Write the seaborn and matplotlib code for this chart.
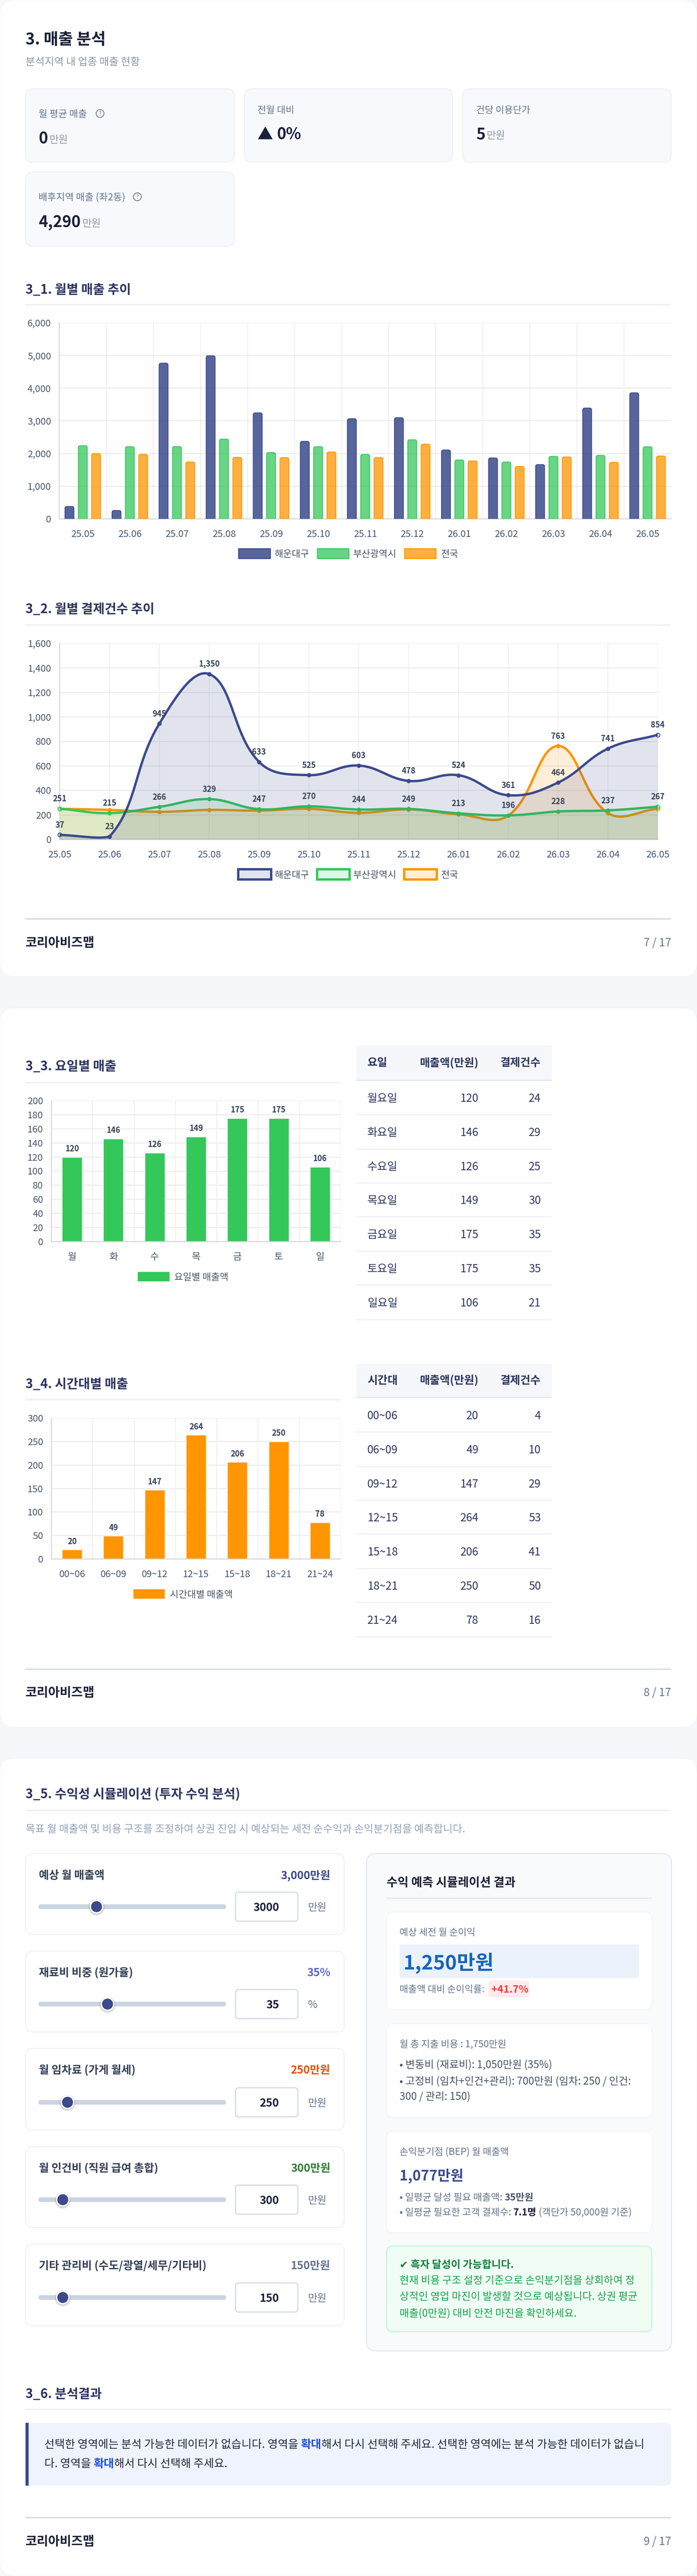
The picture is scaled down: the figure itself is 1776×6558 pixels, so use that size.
import numpy as np
import pandas as pd
import seaborn as sns
import matplotlib.pyplot as plt
from matplotlib.patches import FancyBboxPatch, Circle, Rectangle, PathPatch
from matplotlib.path import Path
from matplotlib.colors import to_rgba

W, H = 1776, 6558
PT = 0.72  # css px on the 100 dpi canvas -> points

# data
months = ["25.05", "25.06", "25.07", "25.08", "25.09", "25.10", "25.11", "25.12", "26.01", "26.02", "26.03", "26.04", "26.05"]
regions = ["해운대구", "부산광역시", "전국"]
sales_local = [380, 258, 4767, 4994, 3245, 2374, 3067, 3098, 2110, 1865, 1663, 3393, 3859]
sales_busan = [2240, 2209, 2215, 2442, 2031, 2209, 1975, 2423, 1804, 1742, 1914, 1945, 2209]
sales_korea = [2000, 1975, 1742, 1883, 1877, 2049, 1877, 2288, 1773, 1607, 1896, 1730, 1926]
count_local = [37, 23, 945, 1350, 633, 525, 603, 478, 524, 361, 464, 741, 854]
count_busan = [251, 215, 266, 329, 247, 270, 244, 249, 213, 196, 228, 237, 267]
count_korea = [250, 241, 225, 241, 235, 250, 217, 245, 205, 194, 763, 215, 250]

day_short = ["월", "화", "수", "목", "금", "토", "일"]
day_names = ["월요일", "화요일", "수요일", "목요일", "금요일", "토요일", "일요일"]
day_sales = [120, 146, 126, 149, 175, 175, 106]
day_count = [24, 29, 25, 30, 35, 35, 21]

time_names = ["00~06", "06~09", "09~12", "12~15", "15~18", "18~21", "21~24"]
time_sales = [20, 49, 147, 264, 206, 250, 78]
time_count = [4, 10, 29, 53, 41, 50, 16]

slider_labels = ["예상 월 매출액", "재료비 비중 (원가율)", "월 임차료 (가게 월세)", "월 인건비 (직원 급여 총합)", "기타 관리비 (수도/광열/세무/기타비)"]
slider_values = ["3,000만원", "35%", "250만원", "300만원", "150만원"]
slider_inputs = ["3000", "35", "250", "300", "150"]
slider_units = ["만원", "%", "만원", "만원", "만원"]

NAVY, GREEN, ORANGE = "#3b4a8c", "#34c759", "#ff9500"
DARK, HEAD, GRAY, TICK = "#1a2138", "#2d3561", "#64748b", "#475569"
GRID, AXIS = "#ebebeb", "#d6d6d6"
FONT = ["Noto Sans CJK KR", "DejaVu Sans"]

sns.set_theme(style="white")
plt.rcParams["font.family"] = FONT
plt.rcParams["axes.unicode_minus"] = False

fig = plt.figure(figsize=(W / 100, H / 100), dpi=100, facecolor="#f5f7fb")
page = fig.add_axes([0, 0, 1, 1], zorder=0)
page.set_xlim(0, W)
page.set_ylim(H, 0)
page.axis("off")
renderer = fig.canvas.get_renderer()


def T(x, y, s, size=24, color=DARK, weight="normal", ha="left", va="center", z=5):
    # centre of the text box sits a little above the glyph centre
    return page.text(x, y + size * 0.1, s, fontsize=size * PT, color=color, fontweight=weight, ha=ha, va=va, zorder=z)


def box(x0, y0, x1, y1, r=0, face="white", edge="none", lw=0, z=1):
    style = f"round,pad=0,rounding_size={r}" if r else "square,pad=0"
    p = FancyBboxPatch((x0, y0), x1 - x0, y1 - y0, boxstyle=style, facecolor=face, edgecolor=edge, linewidth=lw * PT, zorder=z)
    page.add_patch(p)
    return p


def hline(x0, x1, y, color="#f0f1f5", lw=4):
    page.add_patch(Rectangle((x0, y - lw / 2), x1 - x0, lw, facecolor=color, edgecolor="none", zorder=2))


def runs(x, y, parts, size):
    # text with mixed colour / weight on one line
    for s, color, weight in parts:
        t = T(x, y, s, size, color, weight)
        x += t.get_window_extent(renderer).width


def heading(y, line_y, s, x1=1710):
    T(65, y, s, 32.5, HEAD, "bold")
    hline(65, x1, line_y)


def footer(line_y, text_y, s):
    hline(65, 1710, line_y, "#cfd6e2", 3)
    T(65, text_y, "코리아비즈맵", 32, DARK, "bold")
    T(1710, text_y, s, 28, GRAY, ha="right")


def help_icon(x, y):
    page.add_patch(Circle((x, y), 10, facecolor="none", edgecolor=GRAY, linewidth=2 * PT, zorder=5))
    T(x, y, "?", 14, GRAY, ha="center")


def make_axes(l, t, r, b):
    ax = fig.add_axes([l / W, 1 - b / H, (r - l) / W, (b - t) / H], zorder=2)
    ax.patch.set_alpha(0)
    return ax


def style_axes(ax, yticks, categorical=True):
    n = len(ax.get_xticks())
    ax.set_yticks(yticks)
    ax.set_ylim(yticks[0], yticks[-1])
    ax.set_yticklabels([f"{v:,}" for v in yticks])
    ax.set_axisbelow(True)
    ax.set_xlabel("")
    ax.set_ylabel("")
    for side in ["top", "right"]:
        ax.spines[side].set_visible(False)
    for side in ["left", "bottom"]:
        ax.spines[side].set_color(AXIS)
        ax.spines[side].set_linewidth(2.5 * PT)
    ax.grid(True, axis="y", color=GRID, linewidth=2.5 * PT)
    ax.tick_params(axis="y", length=15 * PT, width=2.5 * PT, color=GRID, pad=6 * PT, labelsize=24 * PT, labelcolor=TICK)
    if categorical:
        ax.set_xticks(np.arange(-0.5, n), minor=True)
        ax.set_xlim(-0.5, n - 0.5)
        ax.grid(True, axis="x", which="minor", color="#eeeeee", linewidth=2 * PT)
        ax.tick_params(axis="x", which="minor", length=16 * PT, width=2 * PT, color="#eeeeee")
        ax.tick_params(axis="x", which="major", length=0, pad=28 * PT, labelsize=24 * PT, labelcolor=TICK)
    else:
        ax.grid(True, axis="x", color="#eeeeee", linewidth=2 * PT)
        ax.tick_params(axis="x", length=16 * PT, width=2 * PT, color="#eeeeee", pad=12 * PT, labelsize=24 * PT, labelcolor=TICK)


def legend_item(x, y, w, h, face, edge, lw, label, text_x):
    box(x, y - h / 2, x + w, y + h / 2, 0, face, edge, lw, z=3)
    T(text_x, y, label, 24, TICK)


def round_bar_tops(ax, bars, color, alpha, px_x, px_y, radius=5):
    # chart.js style: rounded upper corners, no stroke along the base
    rx, ry = radius / px_x, radius / px_y
    for bar in bars:
        x0, x1, top = bar.get_x(), bar.get_x() + bar.get_width(), bar.get_height()
        verts = [(x0, 0), (x0, top - ry), (x0, top), (x0 + rx, top), (x1 - rx, top), (x1, top), (x1, top - ry), (x1, 0)]
        codes = [Path.MOVETO, Path.LINETO, Path.CURVE3, Path.CURVE3, Path.LINETO, Path.CURVE3, Path.CURVE3, Path.LINETO]
        ax.add_patch(PathPatch(Path(verts, codes), facecolor=to_rgba(color, alpha), edgecolor=color, linewidth=2 * PT, zorder=3))
        bar.set_visible(False)


def tension_curve(xs, ys, sx, sy, top, t=0.4, n=24):
    # same spline as chart.js tension 0.4, done in pixel space, control points kept inside the plot
    p = np.column_stack([np.asarray(xs, float) * sx, np.asarray(ys, float) * sy])
    before, after = [], []
    for i in range(len(p)):
        prev = p[max(i - 1, 0)]
        nxt = p[min(i + 1, len(p) - 1)]
        d01 = np.hypot(*(p[i] - prev))
        d12 = np.hypot(*(nxt - p[i]))
        total = (d01 + d12) or 1
        a = p[i] - t * d01 / total * (nxt - prev)
        b = p[i] + t * d12 / total * (nxt - prev)
        a[1] = np.clip(a[1], 0, top * sy)
        b[1] = np.clip(b[1], 0, top * sy)
        before.append(a)
        after.append(b)
    out = []
    u = np.linspace(0, 1, n, endpoint=False)[:, None]
    for i in range(len(p) - 1):
        out.append((1 - u) ** 3 * p[i] + 3 * (1 - u) ** 2 * u * after[i] + 3 * (1 - u) * u ** 2 * before[i + 1] + u ** 3 * p[i + 1])
    out.append(p[-1:])
    out = np.vstack(out)
    return out[:, 0] / sx, out[:, 1] / sy


# page cards
box(0, 0, W, 2486, 36, "white", "#eef1f6", 1)
box(0, 2566, W, 4397, 36, "white", "#eef1f6", 1)
box(0, 4476, W, 6558, 36, "white", "#eef1f6", 1)

# ---- page 7 ----
T(65, 97, "3. 매출 분석", 40.5, DARK, "bold")
T(65, 156, "분석지역 내 업종 매출 현황", 26.5, "#8f98a8")

kpi_boxes = [(65, 226, 597, 413), (623, 226, 1153, 413), (1179, 226, 1710, 413), (65, 438, 597, 627)]
for b in kpi_boxes:
    box(*b, 20, "#f7f9fc", "#eef0f5", 2.5)
T(98, 289, "월 평균 매출", 24.4, GRAY)
help_icon(255, 289)
T(98, 350, "0", 40, DARK, "bold")
T(126, 354, "만원", 26, "#8f98a8")
T(656, 279, "전월 대비", 24, GRAY)
T(656, 339, "▲", 40, DARK, "bold")
T(705, 339, "0%", 40, DARK, "bold")
T(1213, 279, "건당 이용단가", 24, GRAY)
T(1213, 339, "5", 40, DARK, "bold")
T(1240, 343, "만원", 26, "#8f98a8")
T(98, 501, "배후지역 매출 (좌2동)", 24.4, GRAY)
help_icon(350, 501)
T(98, 563, "4,290", 40, DARK, "bold")
T(210, 567, "만원", 26, "#8f98a8")

# 3_1 monthly sales
heading(735, 775.5, "3_1. 월별 매출 추이")
sales_df = pd.DataFrame({
    "month": months * 3,
    "region": np.repeat(regions, len(months)),
    "sales": sales_local + sales_busan + sales_korea,
})
ax1 = make_axes(151, 822, 1710, 1321)
sns.barplot(data=sales_df, x="month", y="sales", hue="region", palette=[NAVY, GREEN, ORANGE], width=0.85, gap=0.33, saturation=1, legend=False, ax=ax1)
style_axes(ax1, list(range(0, 6001, 1000)))
ax1.xaxis.get_minor_ticks()[-1].set_visible(False)
for cont, c, a in zip(ax1.containers, [NAVY, GREEN, ORANGE], [0.85, 0.75, 0.75]):
    round_bar_tops(ax1, cont, c, a, 1559 / 13, 499 / 6000)
legend_item(608, 1409, 81, 25, to_rgba(NAVY, 0.85), NAVY, 2.5, regions[0], 700)
legend_item(809, 1409, 80, 25, to_rgba(GREEN, 0.75), GREEN, 2.5, regions[1], 900)
legend_item(1031, 1409, 80, 25, to_rgba(ORANGE, 0.75), ORANGE, 2.5, regions[2], 1124)

# 3_2 monthly payment counts
heading(1548, 1591, "3_2. 월별 결제건수 추이")
ax2 = make_axes(152, 1638, 1676, 2137)
xs = np.arange(len(months))
sx, sy = 1524 / 12, 499 / 1600
# chart.js paints the last dataset first, so navy ends up on top
series = [(count_korea, ORANGE, 2), (count_busan, GREEN, 3), (count_local, NAVY, 4)]
for vals, c, z in series:
    cx, cy = tension_curve(xs, vals, sx, sy, 1600)
    ax2.fill_between(cx, cy, 0, color=c, alpha=0.15, linewidth=0, zorder=z)
    sns.scatterplot(x=xs[1:-1], y=vals[1:-1], s=(11 * PT) ** 2, color=c, linewidth=0, zorder=z + 0.2, ax=ax2)
    sns.scatterplot(x=xs[[0, -1]], y=[vals[0], vals[-1]], s=(10 * PT) ** 2, facecolor=to_rgba(c, 0.15), edgecolor=c, linewidth=2 * PT, clip_on=False, zorder=z + 0.1, ax=ax2)
    sns.lineplot(x=cx, y=cy, sort=False, estimator=None, color=c, linewidth=6 * PT, zorder=z + 0.2, ax=ax2)
ax2.set_xticks(xs)
ax2.set_xticklabels(months)
ax2.set_xlim(0, 12)
style_axes(ax2, list(range(0, 1601, 200)), categorical=False)
for vals in [count_local, count_busan]:
    for x, v in zip(xs, vals):
        ax2.annotate(f"{v:,}", (x, v), xytext=(0, 25 * PT), textcoords="offset points", ha="center", va="center", fontsize=20 * PT, fontweight="bold", color="#334155", zorder=10, annotation_clip=False)
ax2.annotate(f"{count_korea[10]:,}", (xs[10], count_korea[10]), xytext=(0, 25 * PT), textcoords="offset points", ha="center", va="center", fontsize=20 * PT, fontweight="bold", color="#334155", zorder=10)
legend_item(607, 2226, 84, 26, to_rgba(NAVY, 0.15), NAVY, 6, regions[0], 700)
legend_item(808, 2226, 83, 26, to_rgba(GREEN, 0.15), GREEN, 6, regions[1], 900)
legend_item(1030, 2226, 83, 26, to_rgba(ORANGE, 0.15), ORANGE, 6, regions[2], 1124)
footer(2339, 2398, "7 / 17")


# ---- page 8 ----
def bar_chart(top, bottom, names, vals, color, yticks):
    ax = make_axes(131, top, 868, bottom)
    sns.barplot(x=names, y=vals, color=color, width=0.485, saturation=1, ax=ax)
    style_axes(ax, yticks)
    for bar in ax.containers[0]:
        ax.annotate(f"{bar.get_height():.0f}", (bar.get_x() + bar.get_width() / 2, bar.get_height()), xytext=(0, 21 * PT), textcoords="offset points", ha="center", va="center", fontsize=20 * PT, fontweight="bold", color="#334155", zorder=10)
    return ax


def side_table(head_top, head_bot, row_lines, col0, names, vals, counts):
    box(908, head_top, 1406, head_bot, 0, "#f5f7fb", "none", 0, z=2)
    hline(908, 1406, head_bot + 1.5, "#e2e8f0", 3)
    head_y = (head_top + head_bot) / 2 - 2
    T(936, head_y, col0, 28, HEAD, "bold")
    T(1219, head_y, "매출액(만원)", 28, HEAD, "bold", ha="right")
    T(1378, head_y, "결제건수", 28, HEAD, "bold", ha="right")
    prev = head_bot + 3
    for line, n, v, c in zip(row_lines, names, vals, counts):
        hline(908, 1406, line, "#f0f1f5", 3)
        y = (prev + line) / 2
        T(936, y, n, 28, HEAD)
        T(1219, y, str(v), 28, HEAD, ha="right")
        T(1378, y, str(c), 28, HEAD, ha="right")
        prev = line


heading(2712, 2756, "3_3. 요일별 매출", 868)
bar_chart(2802, 3161, day_short, day_sales, GREEN, list(range(0, 201, 20)))
legend_item(351, 3250, 81, 24, GREEN, "none", 0, "요일별 매출액", 444)
side_table(2662, 2749, [2837, 2925, 3011, 3097, 3185, 3271, 3359], "요일", day_names, day_sales, day_count)

heading(3521, 3563, "3_4. 시간대별 매출", 868)
bar_chart(3610, 3969, time_names, time_sales, ORANGE, list(range(0, 301, 50)))
legend_item(340, 4058, 80, 24, ORANGE, "none", 0, "시간대별 매출액", 433)
side_table(3472, 3556, [3645, 3733, 3819, 3905, 3993, 4079, 4167], "시간대", time_names, time_sales, time_count)
footer(4249, 4307, "8 / 17")

# ---- page 9 ----
heading(4565, 4609, "3_5. 수익성 시뮬레이션 (투자 수익 분석)")
T(65, 4655, "목표 월 매출액 및 비용 구조를 조정하여 상권 진입 시 예상되는 세전 순수익과 손익분기점을 예측합니다.", 26.6, "#94a3b8")

slider_cards = [(4719, 4925), (4967, 5173), (5215, 5423), (5465, 5671), (5713, 5921)]
slider_title_y = [4772, 5020, 5268, 5518, 5766]
slider_track_y = [4854, 5102, 5352, 5600, 5849]
slider_thumb_x = [246, 274, 172, 160, 160]
slider_colors = [NAVY, "#5c6bc0", "#e65100", "#2e7d32", GRAY]
for i, (y0, y1) in enumerate(slider_cards):
    box(65, y0, 877, y1, 20, "white", "#f0f1f6", 2.5)
    T(99, slider_title_y[i], slider_labels[i], 28, "#334155", "bold")
    T(842, slider_title_y[i], slider_values[i], 28, slider_colors[i], "bold", ha="right")
    ty = slider_track_y[i]
    box(98, ty - 6, 576, ty + 6, 6, "#cbd5e1", z=2)
    tx = slider_thumb_x[i]
    for grow, a in [(4, 0.04), (2.5, 0.06), (1, 0.08)]:
        page.add_patch(Circle((tx, ty + 2), 17.5 + grow, facecolor=(0, 0, 0, a), edgecolor="none", zorder=3))
    page.add_patch(Circle((tx, ty), 17.5, facecolor="white", edgecolor="none", zorder=3))
    page.add_patch(Circle((tx, ty), 14, facecolor=NAVY, edgecolor="none", zorder=4))
    box(600, ty - 37, 759, ty + 37, 8, "white", "#cbd5e1", 2.5, z=2)
    T(711, ty, slider_inputs[i], 28, DARK, "bold", ha="right")
    T(785, ty, slider_units[i], 26, GRAY)

# result panel
box(934, 4719, 1711, 5985, 24, "#f8fafc", "#e2e8f0", 2.5)
T(985, 4790, "수익 예측 시뮬레이션 결과", 30.4, DARK, "bold")
hline(985, 1662, 4832, "#e2e8f0", 3)

box(985, 4868, 1661, 5116, 16, "white", "#f1f5f9", 2)
T(1018, 4918, "예상 세전 월 순이익", 24, GRAY)
box(1018, 4950, 1628, 5036, 6, "#ebf2fb", z=2)
T(1028, 4993, "1,250만원", 51, "#1565c0", "bold")
T(1018, 5063, "매출액 대비 순이익률:", 24, GRAY)
box(1244, 5042, 1348, 5084, 8, "#ffebee", z=2)
T(1252, 5063, "+41.7%", 26, "#ff3b30", "bold")

box(985, 5152, 1661, 5390, 16, "white", "#f1f5f9", 2)
T(1018, 5202, "월 총 지출 비용 : 1,750만원", 24.2, GRAY)
T(1018, 5254, "• 변동비 (재료비): 1,050만원 (35%)", 26.4, TICK)
T(1018, 5296, "• 고정비 (임차+인건+관리): 700만원 (임차: 250 / 인건:", 26.4, TICK)
T(1018, 5335, "300 / 관리: 150)", 26.4, TICK)

box(985, 5426, 1661, 5684, 16, "white", "#f1f5f9", 2)
T(1018, 5477, "손익분기점 (BEP) 월 매출액", 24.2, GRAY)
T(1018, 5536, "1,077만원", 36, NAVY, "bold")
runs(1018, 5593, [("• 일평균 달성 필요 매출액: ", GRAY, "normal"), ("35만원", TICK, "bold")], 24.4)
runs(1018, 5631, [("• 일평균 필요한 고객 결제수: ", GRAY, "normal"), ("7.1명", DARK, "bold"), (" (객단가 50,000원 기준)", GRAY, "normal")], 24.4)

box(985, 5718, 1661, 5936, 16, "#f0fdf4", "#bbf7d0", 2.5)
T(1018, 5764, "✔ 흑자 달성이 가능합니다.", 26.4, "#15803d", "bold")
T(1018, 5804, "현재 비용 구조 설정 기준으로 손익분기점을 상회하여 정", 26.4, "#16a34a")
T(1018, 5845, "상적인 영업 마진이 발생할 것으로 예상됩니다. 상권 평균", 26.4, "#16a34a")
T(1018, 5887, "매출(0만원) 대비 안전 마진을 확인하세요.", 26.4, "#16a34a")

# 3_6 result text
heading(6092, 6134, "3_6. 분석결과")
box(65, 6168, 1710, 6328, 16, "#eff3fe")
page.add_patch(Rectangle((65, 6168), 16, 160, facecolor="#eff3fe", edgecolor="none", zorder=1.5))
page.add_patch(Rectangle((65, 6168), 8, 160, facecolor=NAVY, edgecolor="none", zorder=2))
BODY = "#1e293b"
BLUE = "#1d4ed8"
runs(113, 6221, [("선택한 영역에는 분석 가능한 데이터가 없습니다. 영역을 ", BODY, "normal"), ("확대", BLUE, "bold"), ("해서 다시 선택해 주세요. 선택한 영역에는 분석 가능한 데이터가 없습니", BODY, "normal")], 28.4)
runs(113, 6270, [("다. 영역을 ", BODY, "normal"), ("확대", BLUE, "bold"), ("해서 다시 선택해 주세요.", BODY, "normal")], 28.4)
footer(6409, 6468, "9 / 17")

fig.savefig("out.png", dpi=100, facecolor=fig.get_facecolor())
